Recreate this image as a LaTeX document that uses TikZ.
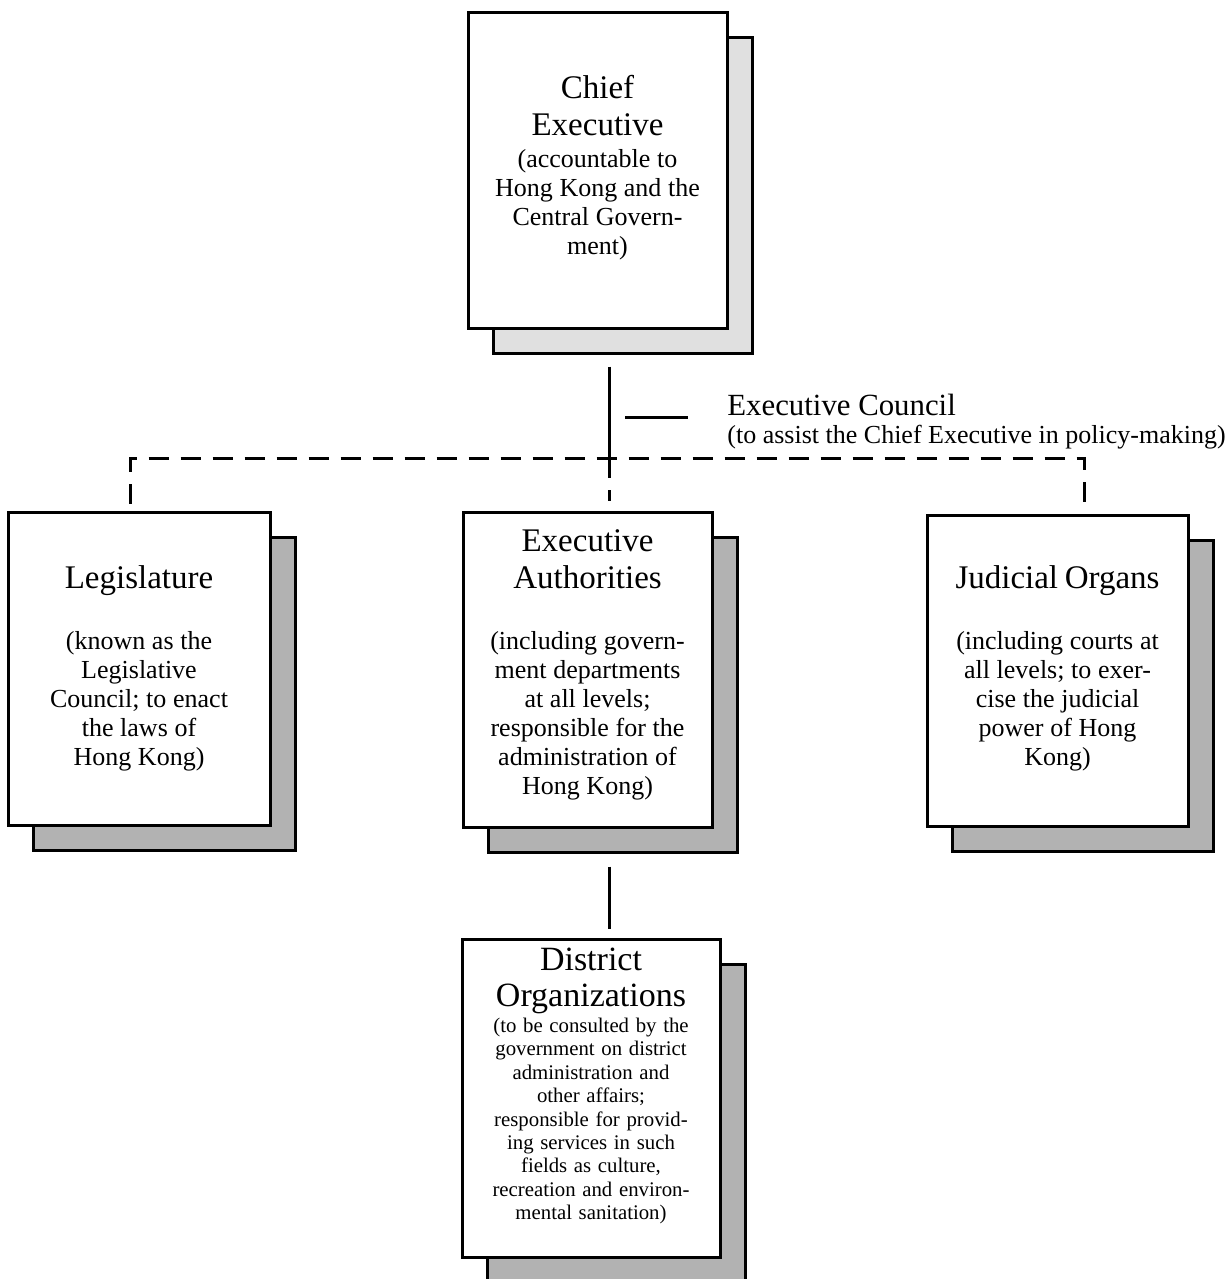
\documentclass[tikz,border=0pt]{standalone}
\usepackage{fontspec}
\setmainfont{Liberation Serif}
\usepackage{tikz}
\usetikzlibrary{shadows, calc}

\newcommand{\organtitle}{\fontsize{16.5pt}{18.5pt}\selectfont}
\newcommand{\organnote}{\fontsize{13pt}{14.5pt}\selectfont}
\newcommand{\districtnote}{\fontsize{10.4pt}{11.7pt}\selectfont}
\newcommand{\lift}[1]{\par\nointerlineskip\vbox to #1{}}

\begin{document}
\begin{tikzpicture}[x=0.5pt, y=-0.5pt,
organ/.style={draw, line width=1.5pt, fill=white, align=center, text width=122pt, inner sep=0pt,
  copy shadow={shadow xshift=12.5pt, shadow yshift=-12.5pt, draw=black, fill=#1, line width=1.5pt}},
organ/.default=black!30,
link/.style={line width=1.5pt},
council/.style={line width=1.5pt, dash pattern=on 10pt off 6pt}]
\useasboundingbox (0,0) rectangle (1231,1279);

\node[organ=black!12, minimum width=129.5pt, minimum height=157.5pt] (ce) at (597.5,170.5)
  {{\organtitle Chief\\Executive\par}\vspace{1.5pt}{\organnote (accountable to\\Hong Kong and the\\Central Govern-\\ment)\par}\lift{2.5pt}};
\node[organ, minimum width=131pt, minimum height=156.5pt] (leg) at (139,668.5)
  {{\organtitle Legislature\par}\vspace{16pt}{\organnote (known as the\\Legislative\\Council; to enact\\the laws of\\Hong Kong)\par}};
\node[organ, minimum width=124.5pt, minimum height=157.5pt] (ea) at (587.5,669.5)
  {{\organtitle Executive\\Authorities\par}\vspace{16pt}{\organnote (including govern-\\ment departments\\at all levels;\\responsible for the\\administration of\\Hong Kong)\par}\lift{5pt}};
\node[organ, minimum width=130.5pt, minimum height=155.5pt] (jo) at (1057.5,670.5)
  {{\organtitle Judicial Organs\par}\vspace{16pt}{\organnote (including courts at\\all levels; to exer-\\cise the judicial\\power of Hong\\Kong)\par}\lift{2pt}};
\node[organ, minimum width=129pt, minimum height=159pt] (do) at (591,1098)
  {{\fontsize{17pt}{18pt}\selectfont District\\Organizations\par}\vspace{1.3pt}{\districtnote (to be consulted by the\\government on district\\administration and\\other affairs;\\responsible for provid-\\ing services in such\\fields as culture,\\recreation and environ-\\mental sanitation)\par}\lift{12pt}};

\node[anchor=west, inner sep=0pt, font=\fontsize{15.4pt}{18pt}\selectfont] (exco) at (727,405) {Executive Council};
\node[anchor=west, inner sep=0pt, font=\fontsize{13pt}{15pt}\selectfont] (excoaim) at (727,437) {(to assist the Chief Executive in policy-making)};

\coordinate (hub) at (609,458);
\draw[link] (ce.south -| hub) ++(0,37) -- (hub);
\draw[link] ($(exco.west)+(-102,12)$) -- ++(63,0);
\draw[council] ($(leg.north)+(-9,-7)$) |- (hub) -| ($(jo.north)+(27,-8)$);
\draw[council] (hub) -- ($(hub |- ea.north)+(0,-10)$);
\draw[link] ($(ea.south -| hub)+(0,38)$) -- ($(do.north -| hub)+(0,-9)$);
\end{tikzpicture}
\end{document}
